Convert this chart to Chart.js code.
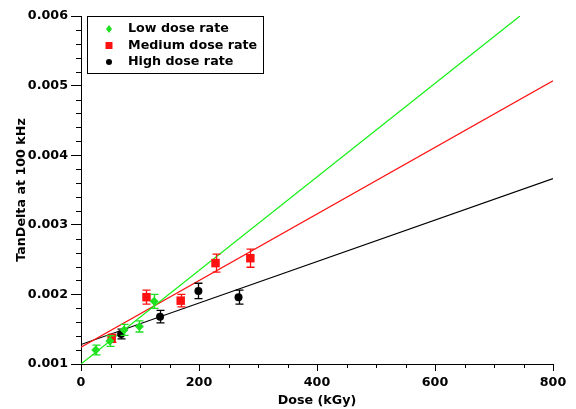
<!DOCTYPE html>
<html>
<head>
<meta charset="utf-8">
<script src="https://cdn.jsdelivr.net/npm/chart.js@4.4.1/dist/chart.umd.min.js"></script>
<style>
html,body{margin:0;padding:0;background:#fff;}
#wrap{width:576px;height:409px;}
</style>
</head>
<body>
<div id="wrap"><canvas id="c" width="576" height="409"></canvas></div>
<script>
// ---- Data ----
const seriesNames = ["Low dose rate", "Medium dose rate", "High dose rate"];

const lowDose   = [25, 49, 73, 99, 124];
const lowVal    = [0.00120, 0.00133, 0.00149, 0.00154, 0.00190];
const lowErr    = [0.00007, 0.000076, 0.00008, 0.00008, 0.00010];

const medDose   = [52, 111, 169, 228, 287];
const medVal    = [0.00137, 0.00196, 0.00191, 0.00245, 0.00252];
const medErr    = [0.00006, 0.00010, 0.00009, 0.00013, 0.00013];

const highDose  = [68, 134, 199, 267];
const highVal   = [0.00143, 0.00168, 0.00205, 0.00196];
const highErr   = [0.00007, 0.00009, 0.00011, 0.00010];

// fitted lines (end points)
const lowFitX  = [0, 744];
const lowFitY  = [0.00100, 0.00600];
const medFitX  = [0, 800];
const medFitY  = [0.00124, 0.00507];
const highFitX = [0, 800];
const highFitY = [0.00128, 0.003665];

const xTicksMajor = [0, 200, 400, 600, 800];
const yTicksMajor = [0.001, 0.002, 0.003, 0.004, 0.005, 0.006];

// ---- helpers ----
const pts = (xs, ys) => xs.map((x, i) => ({x: x, y: ys[i]}));
const GREEN = '#1ee01e', GREEN_LINE = '#11f011', RED = '#ff1111', BLACK = '#000000';
const FONT = "'DejaVu Sans', Verdana, sans-serif";
const FS = 12.7;
const errs = [lowErr, medErr, highErr];
const colors = [GREEN, RED, BLACK];
const styles = ['rectRot', 'rect', 'circle'];

const errorBars = {
  id: 'errorBars',
  beforeDatasetDraw(chart, args) {
    const i = args.index;
    if (i > 2) return;
    const ctx = chart.ctx, ys = chart.scales.y;
    const meta = chart.getDatasetMeta(i);
    ctx.save();
    ctx.strokeStyle = colors[i];
    ctx.lineWidth = 1.3;
    meta.data.forEach((el, k) => {
      const v = chart.data.datasets[i].data[k].y;
      const e = errs[i][k];
      const x = Math.round(el.x) + 0.5;
      const yt = ys.getPixelForValue(v + e), yb = ys.getPixelForValue(v - e);
      ctx.beginPath();
      ctx.moveTo(x, yt); ctx.lineTo(x, yb);
      ctx.moveTo(x - 4, yt); ctx.lineTo(x + 4, yt);
      ctx.moveTo(x - 4, yb); ctx.lineTo(x + 4, yb);
      ctx.stroke();
    });
    ctx.restore();
  }
};

const minorTicks = {
  id: 'minorTicks',
  afterDraw(chart) {
    const ctx = chart.ctx, xs = chart.scales.x, ys = chart.scales.y;
    const ca = chart.chartArea;
    ctx.save();
    ctx.strokeStyle = '#000';
    ctx.lineWidth = 1;
    ctx.beginPath();
    for (let v = 50; v < 800; v += 50) {
      if (v % 200 === 0) continue;
      const x = Math.round(xs.getPixelForValue(v)) + 0.5;
      ctx.moveTo(x, ca.bottom); ctx.lineTo(x, ca.bottom + 4);
    }
    for (let k = 1; k < 25; k++) {
      if (k % 5 === 0) continue;
      const v = 0.001 + k * 0.0002;
      const y = Math.round(ys.getPixelForValue(v)) + 0.5;
      ctx.moveTo(ca.left, y); ctx.lineTo(ca.left - 5, y);
    }
    ctx.stroke();
    ctx.restore();
  }
};

const boxLegend = {
  id: 'boxLegend',
  afterDraw(chart) {
    const ctx = chart.ctx;
    ctx.save();
    ctx.strokeStyle = '#000';
    ctx.lineWidth = 1;
    ctx.strokeRect(87.5, 16.5, 176, 57);
    ctx.font = "bold " + FS + "px " + FONT;
    ctx.textBaseline = 'middle';
    ctx.fillStyle = '#000';
    const rows = [29, 45.5, 62];
    rows.forEach((y, i) => {
      const x = 109;
      ctx.fillStyle = colors[i];
      ctx.beginPath();
      if (i === 0) {
        ctx.moveTo(x, y - 4); ctx.lineTo(x + 3, y); ctx.lineTo(x, y + 4); ctx.lineTo(x - 3, y); ctx.closePath();
      } else if (i === 1) {
        ctx.rect(x - 3.5, y - 3.5, 7, 7);
      } else {
        ctx.arc(x, y, 3, 0, Math.PI * 2);
      }
      ctx.fill();
      ctx.fillStyle = '#000';
      ctx.fillText(seriesNames[i], 128, y);
    });
    ctx.restore();
  }
};

const pointDs = (i, xs, ys, r) => ({
  label: seriesNames[i],
  data: pts(xs, ys),
  backgroundColor: colors[i],
  borderColor: colors[i],
  pointStyle: styles[i],
  pointRadius: r,
  pointHoverRadius: r,
  borderWidth: 0,
  showLine: false
});
const lineDs = (xs, ys, c) => ({
  data: pts(xs, ys),
  borderColor: c,
  borderWidth: 1.2,
  pointRadius: 0,
  showLine: true,
  fill: false
});

new Chart(document.getElementById('c'), {
  type: 'scatter',
  data: {
    datasets: [
      pointDs(0, lowDose, lowVal, 4.5),
      pointDs(1, medDose, medVal, 6),
      pointDs(2, highDose, highVal, 4),
      lineDs(lowFitX, lowFitY, GREEN_LINE),
      lineDs(medFitX, medFitY, RED),
      lineDs(highFitX, highFitY, BLACK)
    ]
  },
  options: {
    responsive: false,
    animation: false,
    events: [],
    layout: { padding: { left: 0, right: 23, top: 16, bottom: 0 } },
    plugins: { legend: { display: false }, tooltip: { enabled: false } },
    scales: {
      x: {
        type: 'linear',
        min: 0, max: 800,
        afterFit(s) { s.height = 45; },
        afterBuildTicks(s) { s.ticks = xTicksMajor.map(v => ({value: v})); },
        border: { display: true, color: '#000', width: 1 },
        grid: { display: true, drawOnChartArea: false, drawTicks: true, tickLength: 7, tickColor: '#000', color: '#000' },
        ticks: { color: '#000', padding: 4, maxRotation: 0, font: { family: FONT, size: FS, weight: 'bold' }, callback: v => String(v) },
        title: { display: true, text: 'Dose (kGy)', color: '#000', padding: { top: 0, bottom: 1 }, font: { family: FONT, size: FS, weight: 'bold' } }
      },
      y: {
        type: 'linear',
        min: 0.001, max: 0.006,
        afterFit(s) { s.width = 81; },
        afterBuildTicks(s) { s.ticks = yTicksMajor.map(v => ({value: v})); },
        border: { display: true, color: '#000', width: 1 },
        grid: { display: true, drawOnChartArea: false, drawTicks: true, tickLength: 10, tickColor: '#000', color: '#000' },
        ticks: { color: '#000', padding: 3, font: { family: FONT, size: FS, weight: 'bold' }, callback: v => Number(v).toFixed(3) },
        title: { display: true, text: 'TanDelta at 100 kHz', color: '#000', padding: { top: 14, bottom: 0 }, font: { family: FONT, size: FS, weight: 'bold' } }
      }
    }
  },
  plugins: [errorBars, minorTicks, boxLegend]
});
</script>
</body>
</html>
